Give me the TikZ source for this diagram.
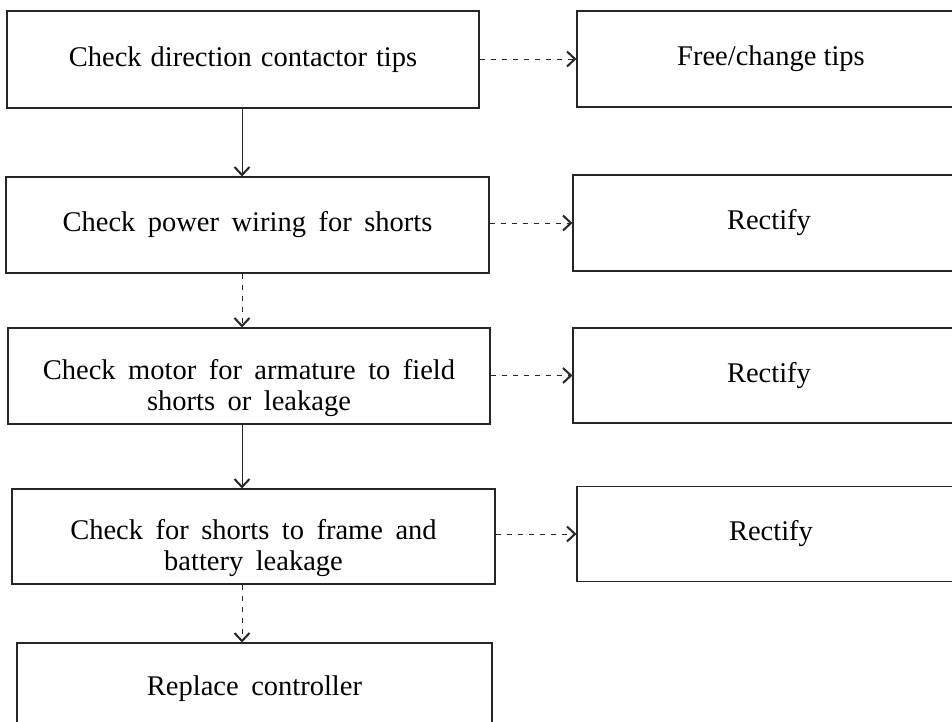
\documentclass[tikz,border=0pt]{standalone}
\usepackage{fontspec}
\setmainfont{Liberation Serif}
\usetikzlibrary{arrows.meta}
\newcommand\mywidesp{\spaceskip=12.5pt plus 1pt\relax}
\newcommand\mynarrowsp{\spaceskip=9pt plus 1pt\relax}
\begin{document}
\begin{tikzpicture}[x=1pt,y=-1pt,
  box/.style={draw=black!85,line width=1.1pt,rectangle,inner sep=0pt,align=center,
    font=\fontsize{28.5}{31}\selectfont\mywidesp},
  box1/.style={box,font=\fontsize{28.5}{31}\selectfont\mynarrowsp},
  rbox/.style={box,font=\fontsize{28.5}{31}\selectfont},
  txt/.style={inner sep=0pt,align=center,font=\fontsize{28.5}{31}\selectfont\mywidesp},
  flow/.style={draw=black!85,line width=1pt,-{Straight Barb[length=8pt,width=15pt,line width=2pt]}},
  broken/.style={flow,dash pattern=on 5pt off 6pt}]
\useasboundingbox (0,0) rectangle (952,721);
\clip (0,0) rectangle (952,721);
\fill[white] (0,0) rectangle (952,721);
% left column
\node[box1,minimum width=472pt,minimum height=97pt] (b1) at (243,59.5) {Check direction contactor tips};
\node[box,minimum width=483pt,minimum height=96pt] (b2) at (247.5,225) {Check power wiring for shorts};
\node[box,minimum width=482pt,minimum height=96pt] (b3) at (249,376) {};
\node[txt] (b3t) at (249,388) {Check motor for armature to field\\shorts or leakage};
\node[box,minimum width=483pt,minimum height=95pt] (b4) at (253.5,536.5) {};
\node[txt] (b4t) at (253.5,548) {Check for shorts to frame and\\battery leakage};
\node[box,minimum width=475pt,minimum height=92pt] (b5) at (254.5,689) {Replace controller};
% right column
\node[rbox,minimum width=388pt,minimum height=96pt] (r1) at (771,59) {Free/change tips};
\node[rbox,minimum width=392pt,minimum height=96pt] (r2) at (769,223) {Rectify};
\node[rbox,minimum width=392pt,minimum height=95pt] (r3) at (769,375.5) {Rectify};
\node[rbox,minimum width=388pt,minimum height=95pt] (r4) at (771,534) {Rectify};
% connectors
\coordinate (ax) at (242,0);
\draw[flow] (b1.south -| ax) -- (b2.north -| ax);
\draw[broken] (b2.south -| ax) -- (b3.north -| ax);
\draw[flow] (b3.south -| ax) -- (b4.north -| ax);
\draw[broken] (b4.south -| ax) -- (b5.north -| ax);
\draw[broken] (b1.east |- r1.west) -- (r1.west);
\draw[broken] (b2.east |- r2.west) -- (r2.west);
\draw[broken] (b3.east |- r3.west) -- (r3.west);
\draw[broken] (b4.east |- r4.west) -- (r4.west);
\end{tikzpicture}
\end{document}
